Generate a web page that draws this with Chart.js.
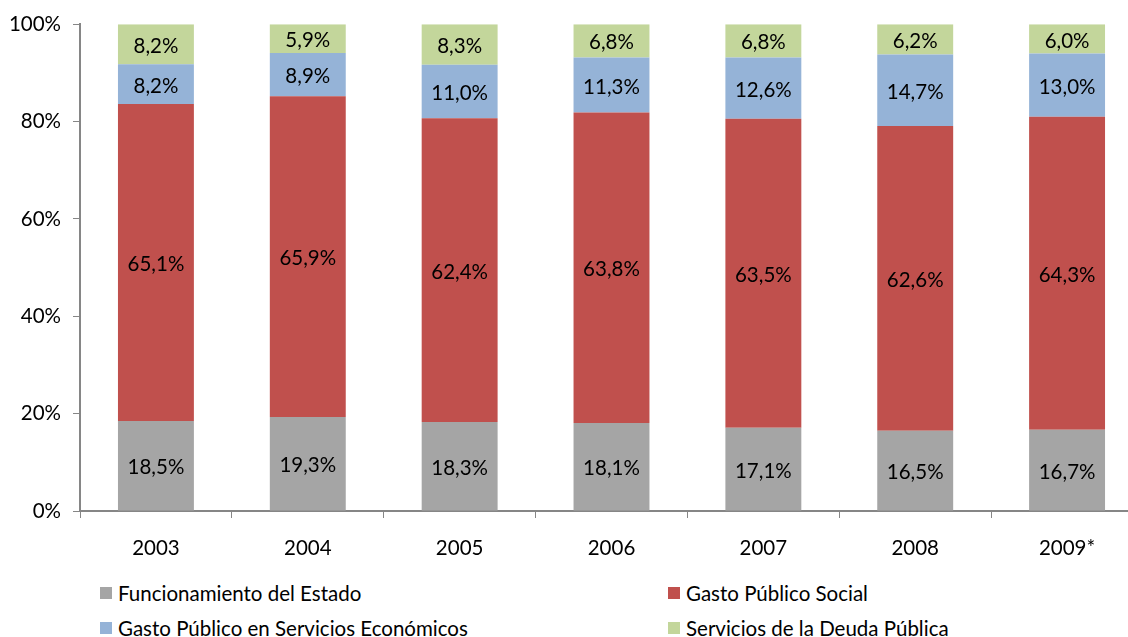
<!DOCTYPE html>
<html>
<head>
<meta charset="utf-8">
<script src="https://cdn.jsdelivr.net/npm/chart.js@4"></script>
<style>
  body { margin: 0; background: #fff; overflow: hidden; width: 1128px; height: 637px; position: relative; font-family: Lato, sans-serif; }
  #wrap { position: absolute; left: 0; top: 0; width: 1143px; height: 560px; }
  .leg { position: absolute; font-size: 20.5px; color: #000; white-space: nowrap; line-height: 20px; }
  .leg i { position: absolute; left: -18px; top: 4px; width: 12px; height: 12px; }
</style>
</head>
<body>
<div id="wrap"><canvas id="chart"></canvas></div>
<div id="legend"></div>
<script>
// categories and series
const years = ['2003', '2004', '2005', '2006', '2007', '2008', '2009*'];
const funcionamiento = [18.5, 19.3, 18.3, 18.1, 17.1, 16.5, 16.7];
const social = [65.1, 65.9, 62.4, 63.8, 63.5, 62.6, 64.3];
const economicos = [8.2, 8.9, 11.0, 11.3, 12.6, 14.7, 13.0];
const deuda = [8.2, 5.9, 8.3, 6.8, 6.8, 6.2, 6.0];
const yTicks = [0, 20, 40, 60, 80, 100];

const series = [
  { label: 'Funcionamiento del Estado', data: funcionamiento, color: '#A5A5A5' },
  { label: 'Gasto Público Social', data: social, color: '#C0504D' },
  { label: 'Gasto Público en Servicios Económicos', data: economicos, color: '#95B3D7' },
  { label: 'Servicios de la Deuda Pública', data: deuda, color: '#C3D69B' }
];

const fmt = v => v.toFixed(1).replace('.', ',') + '%';

// draws the value in the middle of each segment
const segmentLabels = {
  id: 'segmentLabels',
  afterDatasetsDraw(chart) {
    const ctx = chart.ctx;
    ctx.save();
    ctx.font = '20.5px Lato';
    ctx.fillStyle = '#000';
    ctx.textAlign = 'center';
    ctx.textBaseline = 'middle';
    chart.data.datasets.forEach((ds, i) => {
      chart.getDatasetMeta(i).data.forEach((bar, j) => {
        ctx.fillText(fmt(ds.data[j]), bar.x, (bar.y + bar.base) / 2 + 2);
      });
    });
    ctx.restore();
  }
};

new Chart(document.getElementById('chart'), {
  type: 'bar',
  data: {
    labels: years,
    datasets: series.map(s => ({
      label: s.label,
      data: s.data,
      backgroundColor: s.color,
      borderWidth: 0,
      categoryPercentage: 1,
      barPercentage: 0.5
    }))
  },
  options: {
    responsive: true,
    maintainAspectRatio: false,
    animation: false,
    layout: { padding: { top: 24, right: 0, left: 0, bottom: 0 } },
    plugins: { legend: { display: false }, tooltip: { enabled: false } },
    scales: {
      x: {
        stacked: true,
        grid: { display: true, drawOnChartArea: false, tickLength: 7, color: '#868686', offset: true },
        border: { color: '#868686', width: 2 },
        ticks: { color: '#000', font: { family: 'Lato', size: 20.5 }, padding: 18 },
        afterFit(scale) { scale.height = 49; }
      },
      y: {
        stacked: true,
        min: 0,
        max: 100,
        afterBuildTicks(scale) { scale.ticks = yTicks.map(v => ({ value: v })); },
        grid: { drawOnChartArea: false, tickLength: 7, color: '#868686' },
        border: { color: '#868686', width: 2 },
        ticks: { color: '#000', font: { family: 'Lato', size: 20.5 }, padding: 12, callback: v => v + '%' },
        afterFit(scale) { scale.width = 80; }
      }
    }
  },
  plugins: [segmentLabels]
});

// two-column legend under the chart
const legendPos = [[118, 583], [686, 583], [118, 618], [686, 618]];
const legend = document.getElementById('legend');
series.forEach((s, i) => {
  const el = document.createElement('div');
  el.className = 'leg';
  el.style.left = legendPos[i][0] + 'px';
  el.style.top = legendPos[i][1] + 'px';
  el.innerHTML = '<i style="background:' + s.color + '"></i>' + s.label;
  legend.appendChild(el);
});
</script>
</body>
</html>
